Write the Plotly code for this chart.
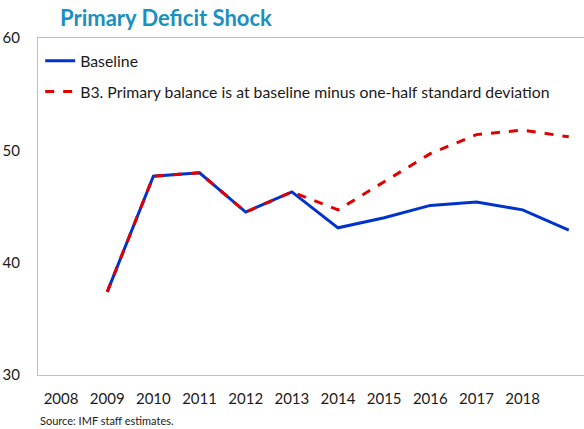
import plotly.graph_objects as go

years = [2009, 2010, 2011, 2012, 2013, 2014, 2015, 2016, 2017, 2018, 2019]
baseline = [37.4, 47.7, 48.0, 44.5, 46.3, 43.1, 44.0, 45.1, 45.4, 44.7, 42.9]
b3 = [37.4, 47.7, 48.0, 44.5, 46.3, 44.7, 47.2, 49.7, 51.4, 51.8, 51.2]
tick_years = [2008, 2009, 2010, 2011, 2012, 2013, 2014, 2015, 2016, 2017, 2018]
y_ticks = [30, 40, 50, 60]

FONT = "Lato"
TXT = "#1a1a1a"

fig = go.Figure()
fig.add_trace(go.Scatter(
    x=years, y=baseline, mode="lines", name="Baseline",
    line=dict(color="#0033cc", width=3), legendgroup="a"))
fig.add_trace(go.Scatter(
    x=years, y=b3, mode="lines",
    name="B3. Primary balance is at baseline minus one-half standard deviation",
    line=dict(color="#e00000", width=3, dash="dash"), legendgroup="b"))

fig.update_layout(
    width=584, height=429,
    margin=dict(l=38, r=0, t=38, b=54),
    paper_bgcolor="white", plot_bgcolor="white",
    font=dict(family=FONT, size=14, color=TXT),
    title=dict(text="<b>Primary Deficit Shock</b>", x=60/584, xanchor="left",
               y=1 - 18/429, yanchor="middle",
               font=dict(family=FONT, size=22, color="#1a8fc0")),
    showlegend=True,
    legend=dict(x=0.004, y=0.982, xanchor="left", yanchor="top",
                bgcolor="rgba(0,0,0,0)", font=dict(size=15.8, color=TXT),
                traceorder="grouped", tracegroupgap=7),
    xaxis=dict(range=[2007.5, 2019.33], tickvals=tick_years,
               ticktext=[str(t) for t in tick_years],
               showgrid=False, zeroline=False, showline=True,
               linecolor="#bfbfbf", linewidth=1, mirror=True,
               ticks="", ticklabelstandoff=10,
               tickfont=dict(size=15, color=TXT)),
    yaxis=dict(range=[30, 60], tickvals=y_ticks, showgrid=False,
               zeroline=False, showline=True, linecolor="#bfbfbf",
               linewidth=1, ticks="", ticklabelstandoff=14,
               tickfont=dict(size=15, color=TXT)),
    annotations=[dict(text="Source: IMF staff estimates.", xref="paper",
                      yref="paper", x=0, y=-45/337, xanchor="left",
                      yanchor="middle", showarrow=False,
                      font=dict(size=11, color=TXT))],
)

fig.write_html("out.html", config={"displayModeBar": False},
               post_script="document.body.style.margin='0';")
